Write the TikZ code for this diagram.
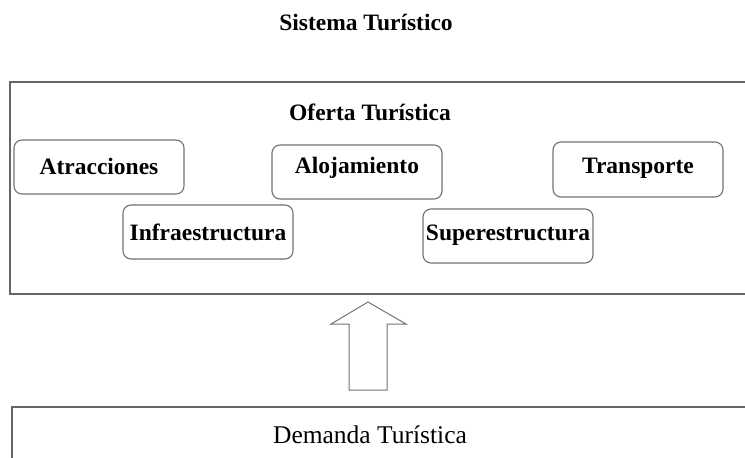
\documentclass[tikz,border=0pt]{standalone}
\usepackage{fontspec}
\setmainfont{Liberation Serif}
\begin{document}
\begin{tikzpicture}[x=1pt,y=-1pt,
  frame/.style={draw=black!60, line width=1.5pt},
  item/.style={draw=black!55, line width=1.1pt, rounded corners=8pt, inner sep=0pt,
    minimum width=170pt, text height=16pt,
    font=\fontsize{23.5}{26}\selectfont\bfseries},
  ttl/.style={font=\fontsize{23.5}{26}\selectfont\bfseries, inner sep=0pt, anchor=base}]
\useasboundingbox (0,0) rectangle (745,458);
\clip (0,0) rectangle (745,458);
\fill[white] (0,0) rectangle (745,458);
\node[ttl] (sis) at (366,30) {Sistema Turístico};
\node[frame, minimum width=750pt, minimum height=212pt, inner sep=0pt] (oferta) at (385,188) {};
\node[ttl] (oft) at (370,120) {Oferta Turística};
\node[item, minimum height=54pt, text depth=2pt] (atr) at (99,167) {Atracciones};
\node[item, minimum height=54pt, text depth=14pt] (alo) at (357,172) {Alojamiento};
\node[item, minimum height=55pt, text depth=9pt] (tra) at (638,169.5) {Transporte};
\node[item, minimum height=54pt, text depth=0pt] (inf) at (208,232) {Infraestructura};
\node[item, minimum height=54pt, text depth=8pt] (sup) at (508,236) {Superestructura};
\node[frame, minimum width=748pt, minimum height=80pt, inner sep=0pt] (dem) at (386,447) {};
\node[font=\fontsize{25.5}{28}\selectfont, inner sep=0pt, anchor=base] (demt) at (370,443) {Demanda Turística};
\draw[draw=black!55, line width=1pt, line join=miter]
  (349,390) -- (349,324) -- (331,324) -- (368,302) -- (406,324) -- (387,324) -- (387,390) -- cycle;
\end{tikzpicture}
\end{document}
